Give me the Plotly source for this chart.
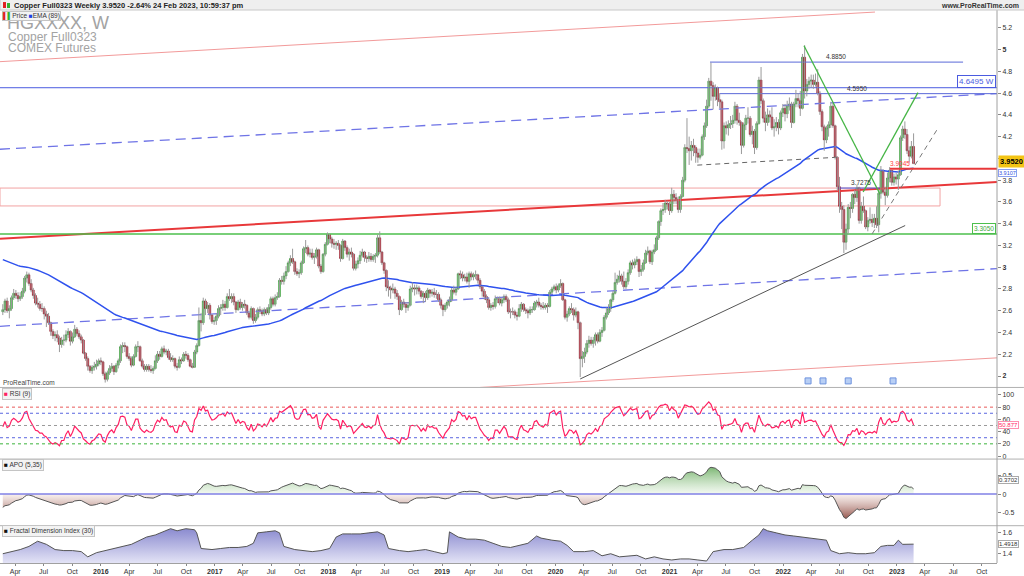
import numpy as np
import pandas as pd
import plotly.graph_objects as go

# ---------------- DATA (weekly, Friday dates) ----------------
FIRST_WEEK = "2015-02-20"
FIRST_OPEN = 2.59

close_2015 = [2.61,2.69,2.60,2.62,2.72, 2.76,2.74,2.71,2.73,2.78, 2.90,2.93,2.85,2.79,2.74, 2.67,2.66,2.62,2.62,2.57,
              2.55,2.49,2.41,2.37,2.38, 2.35,2.29,2.33,2.33,2.38, 2.41,2.32,2.36,2.43,2.39, 2.36,2.33,2.21,2.16,2.09,
              2.05,2.08,2.09,2.11,2.14]
high_2015 = [2.66,2.71,2.72,2.65,2.74, 2.80,2.79,2.77,2.77,2.81, 2.92,2.96,2.95,2.89,2.81, 2.76,2.72,2.69,2.67,2.64,
             2.60,2.58,2.50,2.43,2.41, 2.42,2.37,2.36,2.38,2.42, 2.44,2.42,2.40,2.47,2.45, 2.42,2.38,2.34,2.22,2.18,
             2.10,2.10,2.13,2.15,2.16]
low_2015 = [2.56,2.58,2.58,2.53,2.60, 2.70,2.71,2.68,2.69,2.71, 2.76,2.86,2.83,2.77,2.71, 2.65,2.63,2.60,2.59,2.52,
            2.45,2.47,2.37,2.34,2.32, 2.31,2.22,2.26,2.28,2.31, 2.35,2.28,2.30,2.35,2.37, 2.34,2.30,2.20,2.14,2.05,
            2.03,2.02,2.05,2.06,2.09]

close_2016 = [2.13,2.02,1.97,2.03,2.07, 2.09,2.04,2.10,2.14,2.27, 2.28,2.27,2.18,2.16,2.10, 2.18,2.27,2.27,2.14,2.09,
              2.06,2.09,2.06,2.05,2.07, 2.14,2.20,2.18,2.25,2.22, 2.23,2.17,2.15,2.16,2.09, 2.08,2.15,2.14,2.20,2.19,
              2.15,2.09,2.08,2.22,2.28, 2.51,2.49,2.69,2.62,2.65, 2.56,2.50,2.51]
high_2016 = [2.17,2.14,2.04,2.05,2.10, 2.12,2.10,2.12,2.16,2.29, 2.31,2.31,2.28,2.21,2.18, 2.20,2.29,2.32,2.28,2.16,
             2.11,2.11,2.11,2.10,2.09, 2.19,2.23,2.23,2.27,2.28, 2.25,2.25,2.21,2.19,2.17, 2.12,2.18,2.17,2.22,2.23,
             2.21,2.16,2.12,2.24,2.30, 2.63,2.58,2.72,2.71,2.68, 2.67,2.57,2.54]
low_2016 = [2.10,2.00,1.94,1.95,2.01, 2.04,2.01,2.03,2.07,2.12, 2.21,2.22,2.16,2.14,2.08, 2.09,2.17,2.22,2.13,2.07,
            2.04,2.04,2.04,2.03,2.02, 2.06,2.12,2.15,2.17,2.20, 2.19,2.15,2.13,2.13,2.07, 2.05,2.07,2.11,2.13,2.16,
            2.13,2.08,2.07,2.08,2.20, 2.27,2.41,2.47,2.56,2.58, 2.52,2.48,2.47]

close_2017 = [2.55,2.62,2.63,2.66,2.63, 2.73,2.71,2.73,2.68,2.61, 2.68,2.63,2.66,2.65,2.58, 2.54,2.62,2.51,2.54,2.61,
              2.60,2.57,2.61,2.58,2.63, 2.71,2.66,2.72,2.73,2.88, 2.87,2.92,2.96,3.04,3.08, 3.05,2.96,2.94,2.95,3.04,
              3.17,3.18,3.12,3.13,3.09, 3.10,3.16,3.01,2.96,3.12, 3.21,3.30]
high_2017 = [2.58,2.65,2.66,2.70,2.69, 2.76,2.80,2.76,2.76,2.69, 2.70,2.71,2.68,2.70,2.66, 2.60,2.64,2.63,2.57,2.63,
             2.64,2.62,2.63,2.63,2.66, 2.73,2.73,2.75,2.77,2.90, 2.92,2.95,3.01,3.06,3.11, 3.17,3.06,2.99,2.98,3.06,
             3.19,3.25,3.20,3.17,3.17, 3.13,3.18,3.17,3.03,3.13, 3.23,3.32]
low_2017 = [2.47,2.53,2.56,2.60,2.60, 2.62,2.69,2.67,2.65,2.58, 2.60,2.61,2.60,2.62,2.56, 2.52,2.52,2.48,2.49,2.52,
            2.57,2.55,2.55,2.56,2.56, 2.61,2.64,2.64,2.70,2.72, 2.84,2.84,2.89,2.95,3.01, 3.03,2.93,2.92,2.90,2.93,
            3.03,3.13,3.10,3.09,3.07, 3.03,3.08,2.99,2.94,2.95, 3.10,3.20]

close_2018 = [3.26,3.22,3.21,3.22,3.20, 3.08,3.24,3.18,3.12,3.14, 3.12,2.99,3.03,3.06,3.11, 3.14,3.09,3.08,3.10,3.07,
              3.10,3.11,3.27,3.14,3.04, 2.97,2.82,2.81,2.79,2.80, 2.76,2.73,2.61,2.68,2.66, 2.63,2.65,2.80,2.81,2.80,
              2.81,2.78,2.73,2.76,2.72, 2.79,2.76,2.77,2.75,2.75, 2.70,2.65]
high_2018 = [3.31,3.28,3.26,3.24,3.25, 3.21,3.26,3.25,3.20,3.17, 3.18,3.13,3.06,3.09,3.15, 3.17,3.15,3.11,3.14,3.13,
             3.12,3.13,3.30,3.33,3.15, 3.05,2.98,2.88,2.83,2.85, 2.82,2.79,2.74,2.70,2.71, 2.68,2.68,2.83,2.86,2.84,
             2.84,2.83,2.79,2.78,2.78, 2.81,2.80,2.80,2.81,2.79, 2.77,2.72]
low_2018 = [3.22,3.18,3.17,3.16,3.16, 3.05,3.07,3.15,3.09,3.06, 3.09,2.97,2.97,2.99,3.03, 3.09,3.05,3.04,3.05,3.05,
            3.05,3.04,3.09,3.12,3.02, 2.94,2.78,2.73,2.71,2.76, 2.71,2.70,2.56,2.60,2.63, 2.58,2.60,2.64,2.77,2.74,
            2.75,2.75,2.71,2.67,2.68, 2.70,2.72,2.73,2.72,2.71, 2.68,2.62]

close_2019 = [2.61,2.65,2.68,2.70,2.79, 2.77,2.80,2.94,2.93,2.90, 2.91,2.87,2.94,2.91,2.93, 2.93,2.88,2.82,2.78,2.73,
              2.70,2.63,2.65,2.64,2.71, 2.71,2.67,2.70,2.73,2.70, 2.59,2.59,2.59,2.56,2.55, 2.62,2.66,2.61,2.60,2.58,
              2.61,2.61,2.67,2.68,2.65, 2.64,2.63,2.65,2.64,2.77, 2.80,2.82]
high_2019 = [2.66,2.67,2.70,2.73,2.81, 2.83,2.82,2.95,2.97,2.96, 2.94,2.95,2.96,2.96,2.95, 2.97,2.94,2.90,2.83,2.80,
             2.75,2.72,2.67,2.68,2.74, 2.73,2.73,2.72,2.75,2.75, 2.72,2.62,2.63,2.61,2.59, 2.66,2.68,2.67,2.63,2.62,
             2.64,2.64,2.69,2.70,2.72, 2.67,2.68,2.67,2.67,2.79, 2.82,2.84]
low_2019 = [2.55,2.59,2.62,2.64,2.68, 2.75,2.74,2.79,2.89,2.87, 2.87,2.85,2.81,2.88,2.88, 2.89,2.85,2.80,2.73,2.70,
            2.67,2.61,2.60,2.61,2.62, 2.67,2.65,2.64,2.67,2.68, 2.57,2.53,2.56,2.53,2.51, 2.54,2.59,2.59,2.57,2.53,
            2.56,2.58,2.60,2.63,2.63, 2.61,2.61,2.61,2.58,2.63, 2.75,2.78]

close_2020 = [2.79,2.83,2.85,2.70,2.54, 2.57,2.62,2.61,2.56,2.59, 2.49,2.16,2.18,2.22,2.30, 2.33,2.30,2.33,2.38,2.32,
              2.40,2.42,2.54,2.58,2.62, 2.70,2.76,2.86,2.89,2.92, 2.87,2.82,2.87,2.95,3.04, 3.02,3.05,3.07,2.96,2.98,
              3.04,3.13,3.15,3.05,3.14, 3.16,3.27,3.42,3.52,3.53, 3.59,3.58]
high_2020 = [2.85,2.85,2.89,2.86,2.71, 2.60,2.64,2.67,2.63,2.63, 2.60,2.50,2.23,2.26,2.33, 2.37,2.36,2.36,2.40,2.40,
             2.43,2.45,2.56,2.63,2.66, 2.71,2.78,2.95,2.93,2.97, 2.94,2.96,2.90,2.98,3.06, 3.07,3.08,3.10,3.08,3.02,
             3.07,3.16,3.19,3.16,3.16, 3.21,3.29,3.43,3.54,3.59, 3.62,3.61]
low_2020 = [2.76,2.77,2.81,2.69,2.52, 2.50,2.55,2.58,2.51,2.54, 2.43,1.99,2.08,2.12,2.20, 2.26,2.28,2.26,2.28,2.30,
            2.31,2.36,2.41,2.52,2.56, 2.59,2.68,2.75,2.84,2.86, 2.84,2.80,2.80,2.84,2.93, 2.98,2.99,3.02,2.91,2.92,
            2.96,3.03,3.11,3.03,3.02, 3.12,3.15,3.25,3.38,3.48, 3.50,3.53]

close_2021 = [3.52,3.67,3.64,3.62,3.53, 3.65,3.80,4.10,4.09,4.07, 4.12,4.10,4.05,4.01,4.03, 4.20,4.30,4.48,4.71,4.67,
              4.57,4.65,4.54,4.52,4.16, 4.30,4.28,4.31,4.32,4.35, 4.48,4.35,4.33,4.12,4.31, 4.37,4.37,4.22,4.25,4.10,
              4.32,4.72,4.53,4.37,4.33, 4.40,4.38,4.28,4.29,4.33, 4.28,4.42,4.46]
high_2021 = [3.60,3.73,3.71,3.68,3.65, 3.67,3.83,4.13,4.37,4.20, 4.16,4.18,4.12,4.09,4.09, 4.22,4.33,4.54,4.74,4.88,
             4.70,4.68,4.66,4.60,4.54, 4.33,4.34,4.35,4.39,4.40, 4.52,4.50,4.42,4.34,4.33, 4.40,4.47,4.39,4.30,4.27,
             4.34,4.75,4.84,4.55,4.43, 4.46,4.44,4.47,4.36,4.38, 4.36,4.44,4.50]
low_2021 = [3.48,3.50,3.58,3.58,3.50, 3.50,3.64,3.78,4.05,3.94, 3.98,4.02,3.96,3.96,3.99, 4.02,4.17,4.28,4.46,4.53,
            4.45,4.53,4.48,4.46,4.08, 4.09,4.22,4.21,4.27,4.28, 4.32,4.31,4.30,4.04,4.10, 4.26,4.32,4.20,4.13,4.04,
            4.08,4.31,4.50,4.33,4.25, 4.30,4.33,4.26,4.20,4.25, 4.22,4.26,4.38]

close_2022 = [4.41,4.48,4.50,4.33,4.50, 4.55,4.53,4.46,4.93,4.62, 4.68,4.71,4.72,4.68,4.70, 4.60,4.43,4.29,4.17,4.28,
              4.31,4.48,4.30,4.01,3.74, 3.56,3.53,3.23,3.35,3.55, 3.54,3.67,3.64,3.73,3.43, 3.56,3.52,3.37,3.43,3.44,
              3.41,3.45,3.39,3.68,3.89, 3.69,3.66,3.82,3.89,3.78, 3.83,3.81]
high_2022 = [4.50,4.53,4.56,4.52,4.52, 4.63,4.60,4.62,4.96,5.04, 4.73,4.75,4.77,4.77,4.78, 4.82,4.62,4.45,4.31,4.30,
             4.34,4.52,4.51,4.31,4.02, 3.83,3.60,3.57,3.40,3.58, 3.60,3.68,3.71,3.76,3.74, 3.60,3.65,3.53,3.46,3.55,
             3.49,3.49,3.56,3.71,3.93, 3.90,3.74,3.87,3.92,3.88, 3.86,3.87]
low_2022 = [4.34,4.37,4.44,4.28,4.32, 4.47,4.47,4.39,4.45,4.55, 4.57,4.64,4.65,4.64,4.66, 4.58,4.40,4.25,4.07,4.14,
            4.20,4.28,4.28,3.99,3.70, 3.50,3.35,3.13,3.16,3.30, 3.45,3.50,3.58,3.60,3.40, 3.40,3.50,3.35,3.33,3.40,
            3.37,3.36,3.36,3.32,3.63, 3.67,3.57,3.64,3.78,3.75, 3.75,3.76]

close_2023 = [3.85,4.19,4.27,4.22,4.07,4.02,4.11,3.952]
high_2023 = [3.89,4.21,4.30,4.34,4.27,4.11,4.16,4.23]
low_2023 = [3.71,3.84,4.16,4.18,4.04,3.96,4.00,3.95]

EMA89_SEED = 3.08
EMA5_SEED = 2.60
EMA35_SEED = 2.98
RSI_SEED_GAIN = 0.025
RSI_SEED_LOSS = 0.030

# Fractal Dimension Index (30)
fdi_dates = ["2015-02-20","2015-03-20","2015-04-17","2015-05-15","2015-06-12","2015-07-10","2015-08-07","2015-09-04",
             "2015-10-02","2015-10-30","2015-11-20","2015-12-18",
             "2016-01-15","2016-02-12","2016-03-11","2016-04-08","2016-05-06","2016-05-27","2016-06-24","2016-07-22",
             "2016-08-12","2016-09-02","2016-09-30","2016-10-28","2016-11-04","2016-11-18","2016-12-23",
             "2017-01-20","2017-02-17","2017-03-17","2017-04-14","2017-05-05","2017-05-19","2017-06-16","2017-07-14",
             "2017-07-28","2017-08-11","2017-09-15","2017-10-13","2017-11-10","2017-12-08",
             "2018-01-05","2018-01-26","2018-02-16","2018-03-16","2018-04-13","2018-05-11","2018-06-08","2018-06-29",
             "2018-07-13","2018-08-17","2018-09-14","2018-10-12","2018-11-09","2018-12-07",
             "2019-01-04","2019-01-18","2019-01-25","2019-02-22","2019-03-22","2019-04-19","2019-05-17","2019-06-14",
             "2019-07-12","2019-08-09","2019-09-06","2019-10-04","2019-11-01","2019-11-15","2019-12-20",
             "2020-01-17","2020-02-07","2020-02-28","2020-04-03","2020-05-01","2020-05-29","2020-06-26","2020-07-24",
             "2020-08-21","2020-09-18","2020-10-16","2020-11-13","2020-12-11",
             "2021-01-08","2021-02-05","2021-03-05","2021-04-02","2021-04-30","2021-05-21","2021-06-25","2021-07-23",
             "2021-08-27","2021-09-24","2021-10-15","2021-10-29","2021-11-12","2021-12-10",
             "2022-01-07","2022-02-04","2022-03-04","2022-04-01","2022-04-29","2022-05-20","2022-06-03","2022-07-01",
             "2022-07-29","2022-08-26","2022-09-23","2022-10-21","2022-11-11","2022-12-02","2022-12-23",
             "2023-01-06","2023-01-20","2023-02-03","2023-02-24"]
fdi_values = [1.40,1.42,1.44,1.47,1.52,1.49,1.44,1.43,1.43,1.42,1.37,1.41,
              1.43,1.45,1.47,1.49,1.53,1.56,1.58,1.61,1.64,1.62,1.64,1.63,1.60,1.45,1.44,
              1.45,1.46,1.46,1.47,1.50,1.60,1.61,1.62,1.60,1.47,1.44,1.43,1.42,1.43,
              1.45,1.56,1.59,1.59,1.59,1.60,1.61,1.58,1.45,1.43,1.42,1.43,1.44,1.42,
              1.40,1.41,1.61,1.56,1.54,1.54,1.53,1.50,1.47,1.46,1.48,1.50,1.57,1.55,1.53,
              1.52,1.48,1.42,1.42,1.43,1.38,1.40,1.37,1.38,1.385,1.35,1.37,1.35,
              1.34,1.35,1.35,1.34,1.33,1.42,1.44,1.44,1.46,1.53,1.58,1.64,1.62,1.60,
              1.58,1.57,1.56,1.55,1.54,1.53,1.43,1.40,1.41,1.40,1.40,1.41,1.47,1.48,1.48,
              1.53,1.49,1.49,1.4918]

event_dates = ["2022-03-22", "2022-05-09", "2022-07-29", "2022-12-20"]

x_tick_dates = pd.date_range("2015-04-01", "2023-10-01", freq="QS")
price_ticks = [2.0,2.2,2.4,2.6,2.8,3.0,3.2,3.4,3.6,3.8,4.0,4.2,4.4,4.6,4.8,5.0,5.2]

# ---------------- assemble ----------------
closes = (close_2015 + close_2016 + close_2017 + close_2018 + close_2019 +
          close_2020 + close_2021 + close_2022 + close_2023)
highs = (high_2015 + high_2016 + high_2017 + high_2018 + high_2019 +
         high_2020 + high_2021 + high_2022 + high_2023)
lows = (low_2015 + low_2016 + low_2017 + low_2018 + low_2019 +
        low_2020 + low_2021 + low_2022 + low_2023)
dates = pd.date_range(FIRST_WEEK, periods=len(closes), freq="7D")
opens = [FIRST_OPEN] + closes[:-1]
highs = [max(h, o, c) for h, o, c in zip(highs, opens, closes)]
lows = [min(l, o, c) for l, o, c in zip(lows, opens, closes)]
body_hi = [max(o, c) for o, c in zip(opens, closes)]
body_lo = [min(o, c) for o, c in zip(opens, closes)]


def ema(vals, n, seed):
    a = 2.0 / (n + 1)
    e = seed
    out = []
    for v in vals:
        e = e + a * (v - e)
        out.append(e)
    return np.array(out)


ema89 = ema(closes, 89, EMA89_SEED)
apo = ema(closes, 5, EMA5_SEED) - ema(closes, 35, EMA35_SEED)
rsi = []
ag, al = RSI_SEED_GAIN, RSI_SEED_LOSS
for o_prev, c in zip([FIRST_OPEN] + closes[:-1], closes):
    ch = c - o_prev
    ag = (ag * 8 + max(ch, 0)) / 9
    al = (al * 8 + max(-ch, 0)) / 9
    rsi.append(100 - 100 / (1 + ag / al))

# ---------------- figure ----------------
FONT = "Arial, Liberation Sans, sans-serif"
X0, X1 = "2015-02-11", "2023-11-19"
fig = go.Figure()

# trend / drawing lines in main panel
drawings = [
    (X0, 4.889, "2022-10-23", 5.345, "#f29a9a", 1, "solid"),
    (X0, 3.261, X1, 3.783, "#e8383a", 2, "solid"),
    ("2019-05-03", 1.895, X1, 2.167, "#f29a9a", 1, "solid"),
    (X0, 4.084, X1, 4.596, "#6f74e6", 1.3, "10px,6px"),
    (X0, 2.457, X1, 2.987, "#6f74e6", 1.3, "10px,6px"),
    (X0, 3.305, X1, 3.305, "#4cbf4c", 1.3, "solid"),
    (X0, 4.6495, X1, 4.6495, "#4b5be0", 1, "solid"),
    ("2021-05-11", 4.885, "2023-08-02", 4.885, "#5a68d8", 1, "solid"),
    ("2021-06-12", 4.595, X1, 4.595, "#5a68d8", 1, "solid"),
    ("2021-03-31", 3.938, "2022-06-27", 4.011, "#666666", 1, "5px,4px"),
    ("2022-10-14", 3.307, "2023-05-11", 4.267, "#777777", 1, "5px,4px"),
    ("2020-03-20", 1.973, "2023-01-28", 3.383, "#555555", 1, "solid"),
    ("2022-06-27", 3.7275, "2022-11-08", 3.7275, "#4b5be0", 1, "solid"),
]
for x0, y0, x1, y1, col, w, dash in drawings:
    fig.add_trace(go.Scatter(x=[x0, x1], y=[y0, y1], mode="lines", xaxis="x", yaxis="y",
                             line=dict(color=col, width=w, dash=dash), hoverinfo="skip", showlegend=False))

# EMA 89
fig.add_trace(go.Scatter(x=dates, y=ema89, mode="lines", line=dict(color="#2f52ee", width=1.5),
                         xaxis="x", yaxis="y", showlegend=False, hoverinfo="skip"))

# wicks
wx, wy = [], []
for d, h, l in zip(dates, highs, lows):
    wx += [d, d, None]
    wy += [l, h, None]
fig.add_trace(go.Scatter(x=wx, y=wy, mode="lines", line=dict(color="#9a9a9a", width=1),
                         xaxis="x", yaxis="y", showlegend=False, hoverinfo="skip"))

# candle bodies
fig.add_trace(go.Candlestick(x=dates, open=opens, high=body_hi, low=body_lo, close=closes,
                             xaxis="x", yaxis="y", showlegend=False, whiskerwidth=0,
                             increasing=dict(line=dict(color="#237a23", width=0.5), fillcolor="#58de58"),
                             decreasing=dict(line=dict(color="#6e0a14", width=0.5), fillcolor="#e3122d")))

# later drawings on top
for x0, y0, x1, y1, col, w in [
    ("2022-03-09", 5.035, "2022-11-08", 3.673, "#45b545", 1.3),
    ("2022-09-15", 3.691, "2023-03-10", 4.605, "#45b545", 1.3),
    ("2022-12-10", 3.9045, X1, 3.9045, "#e8383a", 2),
]:
    fig.add_trace(go.Scatter(x=[x0, x1], y=[y0, y1], mode="lines", xaxis="x", yaxis="y",
                             line=dict(color=col, width=w), hoverinfo="skip", showlegend=False))

fig.add_trace(go.Scatter(x=event_dates, y=[1.955] * len(event_dates), mode="markers", xaxis="x", yaxis="y",
                         marker=dict(symbol="square", size=6, color="#b8cff5", line=dict(color="#6f93dd", width=1)),
                         showlegend=False, hoverinfo="skip"))

# RSI
fig.add_trace(go.Scatter(x=dates, y=rsi, mode="lines", line=dict(color="#ff1f63", width=1.2),
                         xaxis="x", yaxis="y2", showlegend=False, hoverinfo="skip"))

# APO
apo_pos = np.maximum(apo, 0)
apo_neg = np.minimum(apo, 0)
fig.add_trace(go.Scatter(x=dates, y=apo_pos, mode="lines", line=dict(width=0), fill="tozeroy",
                         fillgradient=dict(type="vertical", colorscale=[[0, "rgba(235,245,232,0.6)"], [1, "rgba(110,175,100,0.9)"]]),
                         xaxis="x", yaxis="y3", showlegend=False, hoverinfo="skip"))
fig.add_trace(go.Scatter(x=dates, y=apo_neg, mode="lines", line=dict(width=0), fill="tozeroy",
                         fillgradient=dict(type="vertical", colorscale=[[0, "rgba(140,70,60,0.9)"], [1, "rgba(245,232,228,0.6)"]]),
                         xaxis="x", yaxis="y3", showlegend=False, hoverinfo="skip"))
fig.add_trace(go.Scatter(x=dates, y=apo, mode="lines", line=dict(color="#555555", width=1),
                         xaxis="x", yaxis="y3", showlegend=False, hoverinfo="skip"))

# FDI
fig.add_trace(go.Scatter(x=fdi_dates, y=fdi_values, mode="lines", line=dict(color="#555555", width=1),
                         fill="tozeroy",
                         fillgradient=dict(type="vertical", start=1.31, stop=1.66,
                                           colorscale=[[0, "rgba(225,225,245,0.9)"], [1, "rgba(120,120,200,0.9)"]]),
                         xaxis="x", yaxis="y4", showlegend=False, hoverinfo="skip"))

# ---------------- layout ----------------
def py(p):  # pixel row -> paper y
    return (566 - p) / 556.0


def px(p):  # pixel col -> paper x
    return p / 997.0


tick_text = []
for d in x_tick_dates:
    tick_text.append("<b>%d</b>" % d.year if d.month == 1 else d.strftime("%b"))

price_text = ["<b>%d</b>" % v if abs(v - round(v)) < 1e-9 else ("%g" % v) for v in price_ticks]

yax_common = dict(side="right", anchor="x", showgrid=False, zeroline=False, ticks="outside", ticklen=3,
                  tickcolor="#888", tickfont=dict(size=7, color="#333", family=FONT), showline=False, fixedrange=True)

shapes = []
shapes.append(dict(type="rect", xref="x", yref="y", x0=X0, x1="2023-05-20", y0=3.563, y1=3.7275,
                   line=dict(color="#f2a3a3", width=1), fillcolor="rgba(0,0,0,0)", layer="below"))
for lvl, col in [(80, "#e85a5a"), (70, "#5a66e0"), (50, "#999999"), (30, "#5a66e0"), (20, "#3cb43c")]:
    shapes.append(dict(type="line", xref="paper", yref="y2", x0=0, x1=1, y0=lvl, y1=lvl,
                       line=dict(color=col, width=1, dash="dot")))
shapes.append(dict(type="line", xref="paper", yref="y3", x0=0, x1=1, y0=0, y1=0,
                   line=dict(color="#8080e6", width=1.5)))
for p in [389.5, 461.5, 528.5]:
    shapes.append(dict(type="line", xref="paper", yref="paper", x0=0, x1=1.027, y0=py(p), y1=py(p),
                       line=dict(color="#b0b0b0", width=1)))
shapes.append(dict(type="line", xref="paper", yref="paper", x0=1, x1=1, y0=0, y1=1,
                   line=dict(color="#a0a0a0", width=1)))
shapes.append(dict(type="rect", xref="paper", yref="paper", x0=0, x1=1.028, y0=1.0, y1=py(-1),
                   line=dict(color="#c8c8c8", width=1), fillcolor="#efefef"))
shapes.append(dict(type="rect", xref="paper", yref="paper", x0=px(3), x1=px(6), y0=py(8), y1=py(2),
                   line=dict(width=0), fillcolor="#e02020"))
shapes.append(dict(type="rect", xref="paper", yref="paper", x0=px(7), x1=px(10), y0=py(8), y1=py(3),
                   line=dict(width=0), fillcolor="#30b030"))

ann = []


def A(**kw):
    base = dict(showarrow=False, font=dict(family=FONT, size=7, color="#222"))
    if "font" in kw:
        f = dict(base["font"]); f.update(kw.pop("font")); base["font"] = f
    base.update(kw)
    ann.append(base)


A(text="<b>Copper Full0323 Weekly 3.9520 -2.64% 24 Feb 2023, 10:59:37 pm</b>", xref="paper", yref="paper",
  x=px(12), y=py(5), xanchor="left", yanchor="middle", font=dict(size=7.5, color="#222"))
A(text="<b>www.ProRealTime.com</b>", xref="paper", yref="paper", x=px(1021), y=py(5), xanchor="right",
  yanchor="middle", font=dict(size=7, color="#333"))
A(text="HGXXXX, W", xref="paper", yref="paper", x=px(5), y=py(23), xanchor="left", yanchor="middle",
  font=dict(size=18, color="#a3a3a3"))
A(text="Copper Full0323", xref="paper", yref="paper", x=px(6), y=py(37.5), xanchor="left", yanchor="middle",
  font=dict(size=12, color="#a3a3a3"))
A(text="COMEX Futures", xref="paper", yref="paper", x=px(6), y=py(48), xanchor="left", yanchor="middle",
  font=dict(size=12, color="#a3a3a3"))
A(text="<span style='color:#e02020'>▌</span><span style='color:#30b030'>▌</span>Price "
       "<span style='color:#2040e8'>■</span>EMA (89)",
  xref="paper", yref="paper", x=px(2), y=py(16), xanchor="left", yanchor="middle",
  bgcolor="#f3f3f3", bordercolor="#c4c4c4", borderwidth=1, borderpad=0, font=dict(size=6.5, color="#333"))
A(text="ProRealTime.com", xref="paper", yref="paper", x=px(1), y=py(384.5), xanchor="left", yanchor="middle",
  font=dict(size=6.5, color="#444"))
A(text="<span style='color:#ff1f63'>■</span> RSI (9)", xref="paper", yref="paper", x=px(2), y=py(396),
  xanchor="left", yanchor="middle", bgcolor="#f3f3f3", bordercolor="#c4c4c4", borderwidth=1, borderpad=1,
  font=dict(size=6.5, color="#333"))
A(text="<span style='color:#111'>■</span> APO (5,35)", xref="paper", yref="paper", x=px(2), y=py(467),
  xanchor="left", yanchor="middle", bgcolor="#f3f3f3", bordercolor="#c4c4c4", borderwidth=1, borderpad=1,
  font=dict(size=6.5, color="#333"))
A(text="<span style='color:#111'>■</span> Fractal Dimension Index (30)", xref="paper", yref="paper", x=px(2),
  y=py(534), xanchor="left", yanchor="middle", bgcolor="#f3f3f3", bordercolor="#c4c4c4", borderwidth=1,
  borderpad=1, font=dict(size=6.5, color="#333"))
A(text="4.8850", xref="x", yref="y", x="2022-06-20", y=4.885, yanchor="bottom", font=dict(size=6.5, color="#333"))
A(text="4.5950", xref="x", yref="y", x="2022-08-26", y=4.595, yanchor="bottom", font=dict(size=6.5, color="#333"))
A(text="3.7275", xref="x", yref="y", x="2022-09-08", y=3.7275, yanchor="bottom", font=dict(size=6.5, color="#333"))
A(text="3.9045", xref="x", yref="y", x="2023-01-10", y=3.9045, yanchor="bottom", font=dict(size=6.5, color="#ff4040"))
A(text="4.6495 W", xref="paper", yref="y", x=0.9985, y=4.6495, xanchor="right", yanchor="bottom",
  bgcolor="white", bordercolor="#4b5be0", borderwidth=1, borderpad=1, font=dict(size=8, color="#4b5be0"))
A(text="3.3050", xref="paper", yref="y", x=0.9985, y=3.305, xanchor="right", yanchor="bottom",
  bgcolor="white", bordercolor="#4cbf4c", borderwidth=1, borderpad=1, font=dict(size=6.5, color="#3aa83a"))
A(text="<b>3.9520</b>", xref="paper", yref="y", x=1.001, y=3.952, xanchor="left", yanchor="middle", yshift=2,
  bgcolor="#f3c415", borderpad=1, font=dict(size=7.5, color="#000"))
A(text="3.9107", xref="paper", yref="y", x=1.001, y=3.9107, xanchor="left", yanchor="middle", yshift=-5,
  bgcolor="white", bordercolor="#8aa0f0", borderwidth=1, borderpad=0, font=dict(size=5.5, color="#3050e0"))
A(text="50.877", xref="paper", yref="y2", x=1.001, y=50.877, xanchor="left", yanchor="middle",
  bgcolor="white", bordercolor="#ff8fb0", borderwidth=1, borderpad=0, font=dict(size=6, color="#ff1f63"))
A(text="0.3702", xref="paper", yref="y3", x=1.001, y=0.3702, xanchor="left", yanchor="middle",
  bgcolor="white", bordercolor="#aaaaaa", borderwidth=1, borderpad=0, font=dict(size=6, color="#333"))
A(text="1.4918", xref="paper", yref="y4", x=1.001, y=1.4918, xanchor="left", yanchor="middle",
  bgcolor="white", bordercolor="#aaaaaa", borderwidth=1, borderpad=0, font=dict(size=6, color="#333"))

fig.update_layout(
    width=1024, height=576, autosize=False,
    margin=dict(l=0, r=27, t=10, b=10),
    paper_bgcolor="white", plot_bgcolor="white",
    showlegend=False, hovermode=False,
    boxgap=0.12, boxgroupgap=0.0,
    xaxis=dict(type="date", range=[X0, X1], anchor="y4", showgrid=False, zeroline=False,
               tickvals=list(x_tick_dates), ticktext=tick_text, ticks="outside", ticklen=2, tickcolor="#888",
               tickfont=dict(size=7, color="#333", family=FONT), showline=True, linecolor="#a0a0a0",
               rangeslider=dict(visible=False), fixedrange=True),
    yaxis=dict(domain=[py(389), 1.0], range=[1.8995, 5.3638], tickvals=price_ticks, ticktext=price_text, **yax_common),
    yaxis2=dict(domain=[py(461), py(390)], range=[-4.1, 111.4], tickvals=[0, 20, 40, 60, 80, 100], **yax_common),
    yaxis3=dict(domain=[py(528), py(462)], range=[-0.837, 0.928], tickvals=[-0.5, 0, 0.5],
                ticktext=["-0.5", "0", "0.5"], **yax_common),
    yaxis4=dict(domain=[0, py(529)], range=[1.311, 1.664], tickvals=[1.4, 1.6], **yax_common),
    shapes=shapes, annotations=ann,
)

fig.write_html("out.html")
